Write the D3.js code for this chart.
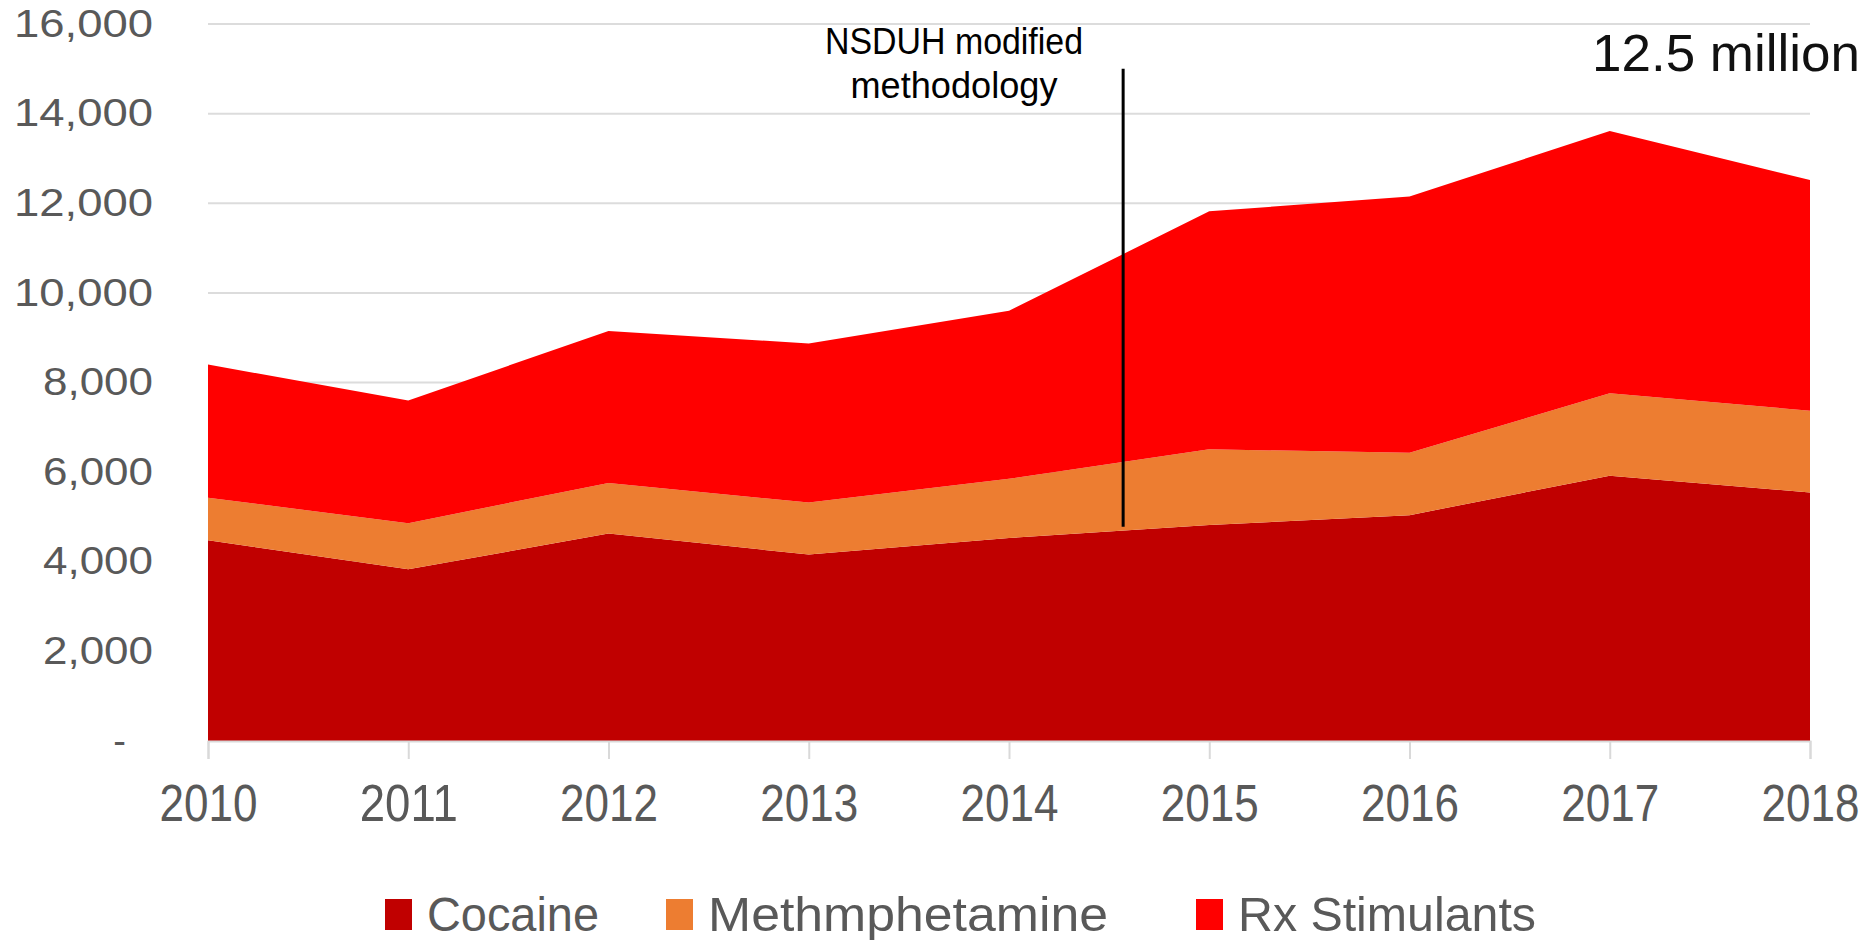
<!DOCTYPE html>
<html>
<head>
<meta charset="utf-8">
<script src="https://cdn.jsdelivr.net/npm/d3@7"></script>
<style>
  body { margin: 0; background: #fff; }
  text { font-family: "Liberation Sans", Arial, sans-serif; }
</style>
</head>
<body>
<div id="plot"></div>
<script>
// data (thousands of people)
var years = [2010, 2011, 2012, 2013, 2014, 2015, 2016, 2017, 2018];
var cocaine = [4480, 3830, 4630, 4160, 4530, 4820, 5040, 5920, 5545];
var meth = [950, 1030, 1130, 1160, 1320, 1690, 1390, 1840, 1825];
var rxStim = [2970, 2740, 3390, 3550, 3750, 5310, 5720, 5850, 5150];
var seriesNames = ["Cocaine", "Methmphetamine", "Rx Stimulants"];
var seriesColors = ["#c00000", "#ed7d31", "#ff0000"];
var yTicks = [0, 2000, 4000, 6000, 8000, 10000, 12000, 14000, 16000];
var methodYear = 2014.57;
var totalLabel = "12.5 million";

function MakeIt() {
  var w = 1875, h = 940;
  var pLeft = 208, pRight = 1810, pTop = 24, pBottom = 741;

  var rows = years.map(function(yr, i) {
    return { year: yr, Cocaine: cocaine[i], Methmphetamine: meth[i], "Rx Stimulants": rxStim[i] };
  });

  var x = d3.scaleLinear().domain([2010, 2018]).range([pLeft, pRight]);
  var y = d3.scaleLinear().domain([0, 16000]).range([pBottom, pTop]);

  var svg = d3.select("#plot").append("svg")
    .attr("width", w)
    .attr("height", h);

  // gridlines under the areas
  svg.append("g")
    .selectAll("line")
    .data(yTicks.filter(function(d) { return d > 0; }))
    .enter()
    .append("line")
    .attr("x1", pLeft)
    .attr("x2", pRight)
    .attr("y1", function(d) { return y(d); })
    .attr("y2", function(d) { return y(d); })
    .attr("stroke", "#dcdcdc")
    .attr("stroke-width", 2);

  var layers = d3.stack().keys(seriesNames)(rows);

  var area = d3.area()
    .x(function(d) { return x(d.data.year); })
    .y0(function(d) { return y(d[0]); })
    .y1(function(d) { return y(d[1]); });

  svg.selectAll("path.layer")
    .data(layers)
    .enter()
    .append("path")
    .attr("class", "layer")
    .attr("fill", function(d, i) { return seriesColors[i]; })
    .attr("d", area);

  // x axis
  var xAxis = d3.axisBottom(x)
    .tickValues(years)
    .tickFormat(d3.format("d"))
    .tickSize(18)
    .tickPadding(26);

  var axBot = svg.append("g")
    .attr("transform", "translate(0," + pBottom + ")")
    .call(xAxis);
  axBot.select(".domain").attr("stroke", "#d9d9d9").attr("stroke-width", 2);
  axBot.selectAll(".tick line").attr("stroke", "#d9d9d9").attr("stroke-width", 2);
  axBot.selectAll(".tick text")
    .attr("fill", "#595959")
    .attr("font-size", 51)
    .attr("textLength", 98)
    .attr("lengthAdjust", "spacingAndGlyphs");

  // y axis, labels only
  var yAxis = d3.axisLeft(y)
    .tickValues(yTicks)
    .tickSize(0)
    .tickPadding(55)
    .tickFormat(function(d) { return d === 0 ? "-" : d3.format(",")(d); });

  var axLeft = svg.append("g")
    .attr("transform", "translate(" + pLeft + ",0)")
    .call(yAxis);
  axLeft.select(".domain").remove();
  axLeft.selectAll(".tick text")
    .attr("fill", "#595959")
    .attr("font-size", 38)
    .attr("textLength", function(d) { return d === 0 ? null : (d >= 10000 ? 139 : 110); })
    .attr("lengthAdjust", "spacingAndGlyphs")
    .attr("dx", function(d) { return d === 0 ? -27 : 0; });

  // methodology change marker
  svg.append("line")
    .attr("x1", x(methodYear))
    .attr("x2", x(methodYear))
    .attr("y1", y(15000))
    .attr("y2", y(4780))
    .attr("stroke", "#000")
    .attr("stroke-width", 3);

  svg.append("text")
    .attr("x", 954)
    .attr("y", 54)
    .attr("text-anchor", "middle")
    .attr("font-size", 37)
    .attr("textLength", 258)
    .attr("lengthAdjust", "spacingAndGlyphs")
    .attr("fill", "#000")
    .text("NSDUH modified");
  svg.append("text")
    .attr("x", 954)
    .attr("y", 98)
    .attr("text-anchor", "middle")
    .attr("font-size", 37)
    .attr("textLength", 207)
    .attr("lengthAdjust", "spacingAndGlyphs")
    .attr("fill", "#000")
    .text("methodology");

  svg.append("text")
    .attr("x", 1860)
    .attr("y", 71)
    .attr("text-anchor", "end")
    .attr("font-size", 52)
    .attr("textLength", 268)
    .attr("lengthAdjust", "spacingAndGlyphs")
    .attr("fill", "#111")
    .text(totalLabel);

  // legend
  var legendX = [385, 666, 1196];
  var legendW = [172, 400, 298];
  var legend = svg.append("g")
    .selectAll("g")
    .data(seriesNames)
    .enter()
    .append("g")
    .attr("transform", function(d, i) { return "translate(" + legendX[i] + ",899)"; });
  legend.append("rect")
    .attr("width", 27)
    .attr("height", 31)
    .attr("fill", function(d, i) { return seriesColors[i]; });
  legend.append("text")
    .attr("x", 42)
    .attr("y", 32)
    .attr("font-size", 49)
    .attr("fill", "#595959")
    .attr("textLength", function(d, i) { return legendW[i]; })
    .attr("lengthAdjust", "spacingAndGlyphs")
    .text(function(d) { return d; });
}

MakeIt();
</script>
</body>
</html>
